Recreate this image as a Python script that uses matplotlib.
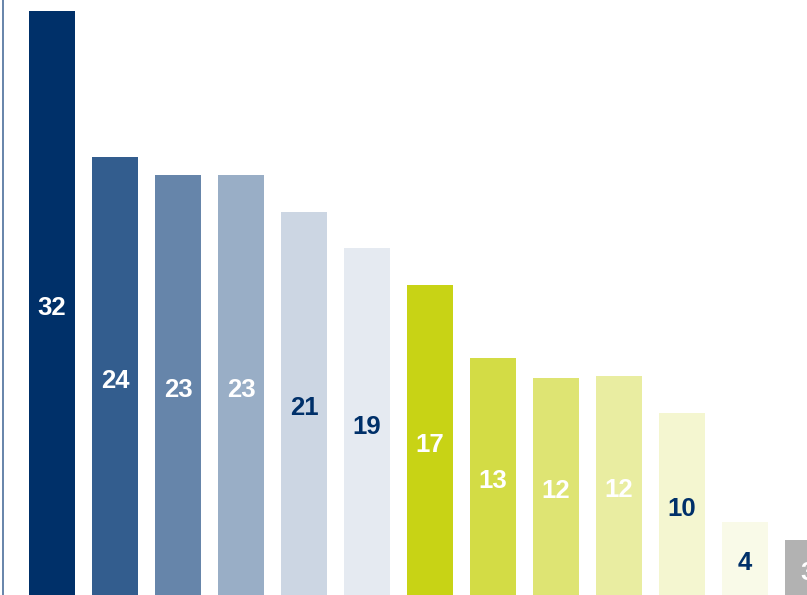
import matplotlib.pyplot as plt

values = [32, 24, 23, 23, 21, 19, 17, 13, 11.9, 12, 10, 4, 3]
labels = ['32', '24', '23', '23', '21', '19', '17', '13', '12', '12', '10', '4', '3']
colors = ['#003069', '#335d8e', '#6685aa', '#99aec6', '#ccd6e3', '#e5eaf1',
          '#c8d315', '#d3dc45', '#dee473', '#e9eda1', '#f4f6d0', '#f9fae8', '#b2b2b2']
label_colors = ['white', 'white', 'white', 'white', '#003069', '#003069',
                'white', 'white', 'white', 'white', '#003069', '#003069', 'white']

fig = plt.figure(figsize=(8.07, 5.95), dpi=100)
ax = fig.add_axes([0, 0, 1, 1])

x = list(range(len(values)))
ax.bar(x, values, width=0.73, color=colors)

for i, v in enumerate(values):
    # labels sit roughly in the middle of each bar
    ax.text(i, v / 2 - 0.27, labels[i], ha='center', va='center', fontsize=18.5,
            fontweight='bold', color=label_colors[i],
            family=['Liberation Sans', 'DejaVu Sans'], clip_on=True)

# thin vertical axis line at the left edge
ax.axvline(-0.77, color='#4d6f9c', lw=1.2)

ax.set_xlim(-52 / 63, 755 / 63)
ax.set_ylim(0, 595 / 18.25)
ax.axis('off')

fig.savefig('out.png', dpi=100)
